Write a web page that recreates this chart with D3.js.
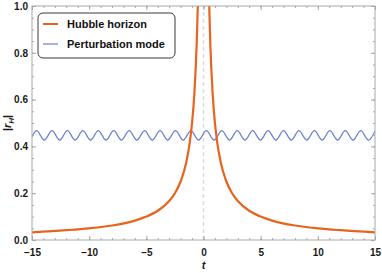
<!DOCTYPE html>
<html>
<head>
<meta charset="utf-8">
<script src="https://cdn.jsdelivr.net/npm/d3@7"></script>
<style>
  body { margin: 0; background: #fff; }
  svg { display: block; font-family: "Liberation Sans", Arial, sans-serif; }
</style>
</head>
<body>
<div id="chart"></div>
<script>
// hubble horizon |r_H|
const hubble_t = [-15, -12, -10, -8, -6, -5, -4, -3, -2.5, -2, -1.5, -1.2, -1, -0.8, -0.6, -0.5, -0.4,
                  0.4, 0.5, 0.6, 0.8, 1, 1.2, 1.5, 2, 2.5, 3, 4, 5, 6, 8, 10, 12, 15];
const hubble_r = [0.033, 0.042, 0.05, 0.062, 0.083, 0.1, 0.125, 0.167, 0.2, 0.25, 0.333, 0.417, 0.5, 0.625, 0.833, 1.0, 1.25,
                  1.25, 1.0, 0.833, 0.625, 0.5, 0.417, 0.333, 0.25, 0.2, 0.167, 0.125, 0.1, 0.083, 0.062, 0.05, 0.042, 0.033];

// perturbation mode: start, alternating peaks / troughs, end
const mode_t = [-15, -14.6, -13.93, -13.25, -12.58, -11.9, -11.23, -10.55, -9.88, -9.2, -8.53, -7.85, -7.18,
                -6.5, -5.83, -5.15, -4.48, -3.8, -3.13, -2.45, -1.78, -1.1, -0.43, 0.25, 0.93, 1.6, 2.28,
                2.95, 3.63, 4.3, 4.98, 5.65, 6.33, 7.0, 7.68, 8.35, 9.03, 9.7, 10.38, 11.05, 11.73, 12.4,
                13.08, 13.75, 14.43, 15];
const mode_r = [0.441, 0.467, 0.427, 0.467, 0.427, 0.467, 0.427, 0.467, 0.427, 0.467, 0.427, 0.467, 0.427,
                0.467, 0.427, 0.467, 0.427, 0.467, 0.427, 0.467, 0.427, 0.467, 0.427, 0.467, 0.427, 0.467, 0.427,
                0.467, 0.427, 0.467, 0.427, 0.467, 0.427, 0.467, 0.427, 0.467, 0.427, 0.467, 0.427, 0.467, 0.427, 0.467,
                0.427, 0.467, 0.427, 0.465];

const x_ticks = [-15, -10, -5, 0, 5, 10, 15];
const y_ticks = [0, 0.2, 0.4, 0.6, 0.8, 1.0];
const legend_names = ['Hubble horizon', 'Perturbation mode'];
const legend_colors = ['#e8641e', '#6a7fd2'];

const width = 382, height = 273;
const margin = {left: 32, right: 7, top: 6, bottom: 33};

let svg = d3.select('#chart').append('svg')
    .attr('width', width)
    .attr('height', height);

let x = d3.scaleLinear().domain([-15, 15]).range([margin.left, width - margin.right]);
let y = d3.scaleLinear().domain([0, 1]).range([height - margin.bottom, margin.top]);

svg.append('clipPath').attr('id', 'plot_clip')
    .append('rect')
    .attr('x', x(-15)).attr('y', y(1))
    .attr('width', x(15) - x(-15)).attr('height', y(0) - y(1));

// dashed line at t = 0
svg.append('line')
    .attr('x1', x(0)).attr('x2', x(0))
    .attr('y1', y(0)).attr('y2', y(1))
    .style('stroke', '#dcdcdc')
    .style('stroke-width', 1.5)
    .style('stroke-dasharray', '4,3');

let plot = svg.append('g').attr('clip-path', 'url(#plot_clip)');

let mode_line = d3.line()
    .x(d => x(d[0])).y(d => y(d[1]))
    .curve(d3.curveMonotoneX);
plot.append('path')
    .datum(d3.zip(mode_t, mode_r))
    .attr('d', mode_line)
    .style('fill', 'none')
    .style('stroke', legend_colors[1])
    .style('stroke-width', 1.2);

let hubble_line = d3.line()
    .x(d => x(d[0])).y(d => y(d[1]))
    .curve(d3.curveMonotoneX);
let left_branch = d3.zip(hubble_t, hubble_r).filter(d => d[0] < 0);
let right_branch = d3.zip(hubble_t, hubble_r).filter(d => d[0] > 0);
[left_branch, right_branch].forEach(function (branch) {
    plot.append('path')
        .datum(branch)
        .attr('d', hubble_line)
        .style('fill', 'none')
        .style('stroke', legend_colors[0])
        .style('stroke-width', 2.2);
});

// frame with inward ticks on all four sides
const frame_color = '#a8a8a8';
svg.append('rect')
    .attr('x', x(-15)).attr('y', y(1))
    .attr('width', x(15) - x(-15)).attr('height', y(0) - y(1))
    .style('fill', 'none')
    .style('stroke', frame_color)
    .style('stroke-width', 1);

let x_minor = d3.range(-15, 16, 1);
let y_minor = d3.range(0, 1.001, 0.05);

let x_axis_bottom = d3.axisBottom(x).tickValues(x_ticks).tickSize(-4)
    .tickFormat(d => d < 0 ? '\u2212' + Math.abs(d) : d);
let g_bottom = svg.append('g').attr('transform', 'translate(0,' + y(0) + ')').call(x_axis_bottom);
let g_bottom_minor = svg.append('g').attr('transform', 'translate(0,' + y(0) + ')')
    .call(d3.axisBottom(x).tickValues(x_minor).tickSize(-2).tickFormat(''));
let g_top = svg.append('g').attr('transform', 'translate(0,' + y(1) + ')')
    .call(d3.axisTop(x).tickValues(x_ticks).tickSize(-4).tickFormat(''));
let g_top_minor = svg.append('g').attr('transform', 'translate(0,' + y(1) + ')')
    .call(d3.axisTop(x).tickValues(x_minor).tickSize(-2).tickFormat(''));

let y_axis_left = d3.axisLeft(y).tickValues(y_ticks).tickSize(-4).tickFormat(d3.format('.1f'));
let g_left = svg.append('g').attr('transform', 'translate(' + x(-15) + ',0)').call(y_axis_left);
let g_left_minor = svg.append('g').attr('transform', 'translate(' + x(-15) + ',0)')
    .call(d3.axisLeft(y).tickValues(y_minor).tickSize(-2).tickFormat(''));
let g_right = svg.append('g').attr('transform', 'translate(' + x(15) + ',0)')
    .call(d3.axisRight(y).tickValues(y_ticks).tickSize(-4).tickFormat(''));
let g_right_minor = svg.append('g').attr('transform', 'translate(' + x(15) + ',0)')
    .call(d3.axisRight(y).tickValues(y_minor).tickSize(-2).tickFormat(''));

[g_bottom, g_bottom_minor, g_top, g_top_minor, g_left, g_left_minor, g_right, g_right_minor].forEach(function (g) {
    g.select('.domain').remove();
    g.selectAll('line').style('stroke', frame_color).style('stroke-width', 1);
});

g_bottom.selectAll('text')
    .attr('y', 9)
    .style('font-size', '10px')
    .style('font-weight', 'bold')
    .style('fill', '#1a1a1a')
    .style('font-family', '"Liberation Sans", Arial, sans-serif');
g_left.selectAll('text')
    .attr('x', -4)
    .style('font-size', '10px')
    .style('font-weight', 'bold')
    .style('fill', '#1a1a1a')
    .style('font-family', '"Liberation Sans", Arial, sans-serif');

// axis labels
svg.append('text')
    .attr('x', x(0))
    .attr('y', 269)
    .style('text-anchor', 'middle')
    .style('font-size', '11px')
    .style('font-style', 'italic')
    .style('font-weight', 'bold')
    .style('fill', '#1a1a1a')
    .text('t');

let y_label = svg.append('text')
    .attr('transform', 'translate(11,' + y(0.5) + ') rotate(-90)')
    .style('text-anchor', 'middle')
    .style('font-size', '11px')
    .style('font-weight', 'bold')
    .style('fill', '#1a1a1a');
y_label.append('tspan').text('|');
y_label.append('tspan').style('font-style', 'italic').text('r');
y_label.append('tspan').attr('dy', 3).style('font-size', '8px').style('font-style', 'italic').text('H');
y_label.append('tspan').attr('dy', -3).text('|');

// legend
let legend = svg.append('g').attr('transform', 'translate(38,13)');
legend.append('rect')
    .attr('width', 137).attr('height', 45)
    .attr('rx', 5).attr('ry', 5)
    .style('fill', '#fff')
    .style('stroke', '#3a3a3a')
    .style('stroke-width', 1);
legend_names.forEach(function (name, i) {
    let row = legend.append('g').attr('transform', 'translate(0,' + (11 + i * 20) + ')');
    row.append('line')
        .attr('x1', 5).attr('x2', 20)
        .style('stroke', legend_colors[i])
        .style('stroke-width', i === 0 ? 2 : 1.2);
    row.append('text')
        .attr('x', 29).attr('y', 4)
        .style('font-size', '11px')
        .style('font-weight', 'bold')
        .style('fill', '#111')
        .text(name);
});
</script>
</body>
</html>
